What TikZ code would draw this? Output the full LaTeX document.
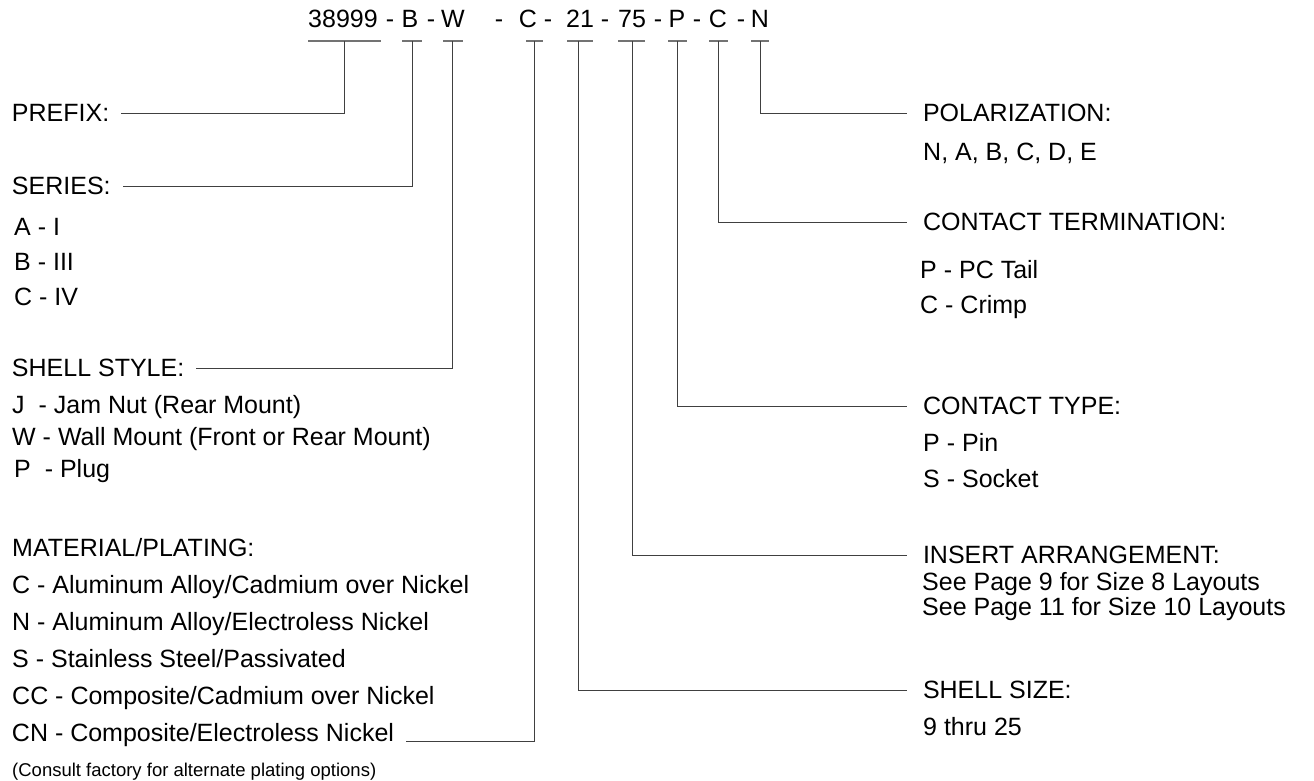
\documentclass[tikz,border=0pt]{standalone}
\usepackage{fontspec}
\setmainfont{Liberation Sans}
\begin{document}
\begin{tikzpicture}[x=1pt,y=-1pt,
  txt/.style={inner sep=0pt, text height=17.9pt, text depth=0pt, anchor=west, font=\fontsize{25}{30}\selectfont},
  tok/.style={inner sep=0pt, anchor=base, font=\fontsize{25}{30}\selectfont},
  lhead/.style={txt, outer xsep=12pt, outer ysep=0pt},
  rhead/.style={txt, outer xsep=16pt, outer ysep=0pt},
  small/.style={inner sep=0pt, text height=13.2pt, text depth=0pt, anchor=west, font=\fontsize{18.5}{22}\selectfont},
  conn/.style={draw=black!75, line width=1pt},
  uline/.style={draw=black!55, line width=1.3pt}]
\useasboundingbox (0,0) rectangle (1314,780);
% part number tokens
\node[tok] (n1) at (343,27) {38999};
\node[tok] (d1) at (390,27) {-};
\node[tok] (n2) at (410,27) {B};
\node[tok] (d2) at (431,27) {-};
\node[tok] (n3) at (453,27) {W};
\node[tok] (d3) at (499,27) {-};
\node[tok] (n4) at (528,27) {C};
\node[tok] (d4) at (548,27) {-};
\node[tok] (n5) at (580,27) {21};
\node[tok] (d5) at (605,27) {-};
\node[tok] (n6) at (632,27) {75};
\node[tok] (d6) at (658,27) {-};
\node[tok] (n7) at (677,27) {P};
\node[tok] (d7) at (697,27) {-};
\node[tok] (n8) at (718,27) {C};
\node[tok] (d8) at (741,27) {-};
\node[tok] (n9) at (760,27) {N};
% underline ends and ticks
\coordinate (u1a) at (308,41); \coordinate (u1b) at (381,41); \coordinate (t1) at (344,41);
\coordinate (u2a) at (402,41); \coordinate (u2b) at (422,41); \coordinate (t2) at (412,41);
\coordinate (u3a) at (443,41); \coordinate (u3b) at (463,41); \coordinate (t3) at (452,41);
\coordinate (u4a) at (526,41); \coordinate (u4b) at (543,41); \coordinate (t4) at (534,41);
\coordinate (u5a) at (567,41); \coordinate (u5b) at (593,41); \coordinate (t5) at (578,41);
\coordinate (u6a) at (618,41); \coordinate (u6b) at (645,41); \coordinate (t6) at (632,41);
\coordinate (u7a) at (668,41); \coordinate (u7b) at (687,41); \coordinate (t7) at (677,41);
\coordinate (u8a) at (709,41); \coordinate (u8b) at (728,41); \coordinate (t8) at (718,41);
\coordinate (u9a) at (751,41); \coordinate (u9b) at (769,41); \coordinate (t9) at (760,41);
\foreach \i in {1,...,9} {\draw[uline] (u\i a) -- (u\i b);}
% left labels
\node[lhead] (prefix) at (0,113) {PREFIX:};
\node[lhead] (series) at (0,186) {SERIES:};
\node[txt] (sa) at (14,227) {A - I};
\node[txt] (sb) at (14,262) {B - III};
\node[txt] (sc) at (14,297) {C - IV};
\node[lhead] (shell) at (0,368) {SHELL STYLE:};
\node[txt] (sj) at (12,405) {J\ \ - Jam Nut (Rear Mount)};
\node[txt] (sw) at (12,437) {W - Wall Mount (Front or Rear Mount)};
\node[txt] (sp) at (14,469) {P\ \ - Plug};
\node[txt] (mat) at (12,548) {MATERIAL/PLATING:};
\node[txt] (m1) at (12,585) {C - Aluminum Alloy/Cadmium over Nickel};
\node[txt] (m2) at (12,622) {N - Aluminum Alloy/Electroless Nickel};
\node[txt] (m3) at (12,659) {S - Stainless Steel/Passivated};
\node[txt] (m4) at (12,696) {CC - Composite/Cadmium over Nickel};
\node[lhead] (m5) at (0,733) {CN - Composite/Electroless Nickel};
\node[small] (note) at (12,770) {(Consult factory for alternate plating options)};
% right labels
\node[rhead] (pol) at (907,113) {POLARIZATION:};
\node[txt] (p1) at (923,152) {N, A, B, C, D, E};
\node[rhead] (term) at (907,222) {CONTACT TERMINATION:};
\node[txt] (c1) at (920,270) {P - PC Tail};
\node[txt] (c2) at (920,305) {C - Crimp};
\node[rhead] (ctype) at (907,406) {CONTACT TYPE:};
\node[txt] (y1) at (923,443) {P - Pin};
\node[txt] (y2) at (923,479) {S - Socket};
\node[rhead] (ins) at (907,555) {INSERT ARRANGEMENT:};
\node[txt] (i1) at (922,582) {See Page 9 for Size 8 Layouts};
\node[txt] (i2) at (922,607) {See Page 11 for Size 10 Layouts};
\node[rhead] (size) at (907,690) {SHELL SIZE:};
\node[txt] (z1) at (923,727) {9 thru 25};
% connectors
\draw[conn] (t1) |- (prefix.east);
\draw[conn] (t2) |- (series.east);
\draw[conn] (t3) |- (shell.east);
\draw[conn] (t4) |- (m5.south east);
\draw[conn] (t5) |- (size.west);
\draw[conn] (t6) |- (ins.west);
\draw[conn] (t7) |- (ctype.west);
\draw[conn] (t8) |- (term.west);
\draw[conn] (t9) |- (pol.west);
\end{tikzpicture}
\end{document}
